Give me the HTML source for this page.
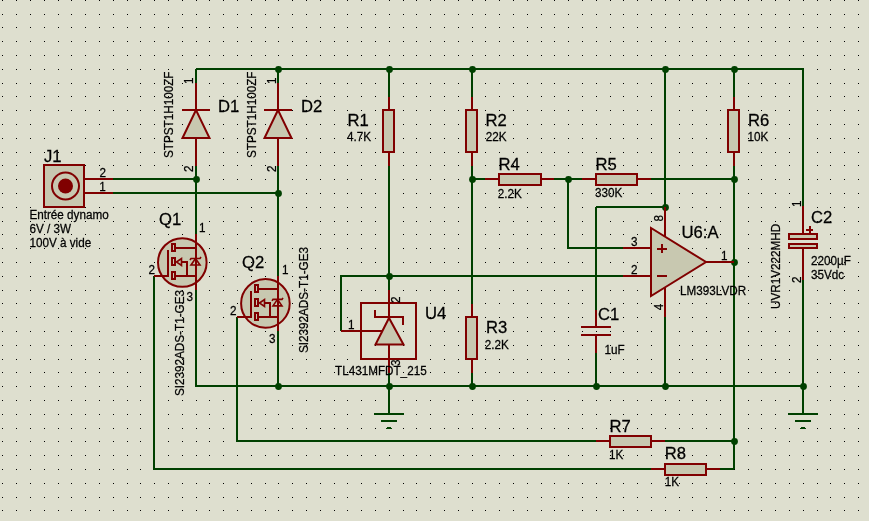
<!DOCTYPE html>
<html><head><meta charset="utf-8"><style>
html,body{margin:0;padding:0;background:#dedfcf;}
svg{display:block;}
text{font-family:"Liberation Sans",sans-serif;fill:#000000;stroke:#000000;stroke-width:0.25px;}
</style></head><body>
<svg width="869" height="521" viewBox="0 0 869 521">
<rect width="869" height="521" fill="#dedfcf"/>
<path d="M2 0h1v1h-1zM2 14h1v1h-1zM2 27h1v1h-1zM2 41h1v1h-1zM2 55h1v1h-1zM2 69h1v1h-1zM2 83h1v1h-1zM2 96h1v1h-1zM2 110h1v1h-1zM2 124h1v1h-1zM2 138h1v1h-1zM2 152h1v1h-1zM2 165h1v1h-1zM2 179h1v1h-1zM2 193h1v1h-1zM2 207h1v1h-1zM2 221h1v1h-1zM2 234h1v1h-1zM2 248h1v1h-1zM2 262h1v1h-1zM2 276h1v1h-1zM2 290h1v1h-1zM2 303h1v1h-1zM2 317h1v1h-1zM2 331h1v1h-1zM2 345h1v1h-1zM2 359h1v1h-1zM2 372h1v1h-1zM2 386h1v1h-1zM2 400h1v1h-1zM2 414h1v1h-1zM2 428h1v1h-1zM2 441h1v1h-1zM2 455h1v1h-1zM2 469h1v1h-1zM2 483h1v1h-1zM2 497h1v1h-1zM2 510h1v1h-1zM16 0h1v1h-1zM16 14h1v1h-1zM16 27h1v1h-1zM16 41h1v1h-1zM16 55h1v1h-1zM16 69h1v1h-1zM16 83h1v1h-1zM16 96h1v1h-1zM16 110h1v1h-1zM16 124h1v1h-1zM16 138h1v1h-1zM16 152h1v1h-1zM16 165h1v1h-1zM16 179h1v1h-1zM16 193h1v1h-1zM16 207h1v1h-1zM16 221h1v1h-1zM16 234h1v1h-1zM16 248h1v1h-1zM16 262h1v1h-1zM16 276h1v1h-1zM16 290h1v1h-1zM16 303h1v1h-1zM16 317h1v1h-1zM16 331h1v1h-1zM16 345h1v1h-1zM16 359h1v1h-1zM16 372h1v1h-1zM16 386h1v1h-1zM16 400h1v1h-1zM16 414h1v1h-1zM16 428h1v1h-1zM16 441h1v1h-1zM16 455h1v1h-1zM16 469h1v1h-1zM16 483h1v1h-1zM16 497h1v1h-1zM16 510h1v1h-1zM30 0h1v1h-1zM30 14h1v1h-1zM30 27h1v1h-1zM30 41h1v1h-1zM30 55h1v1h-1zM30 69h1v1h-1zM30 83h1v1h-1zM30 96h1v1h-1zM30 110h1v1h-1zM30 124h1v1h-1zM30 138h1v1h-1zM30 152h1v1h-1zM30 165h1v1h-1zM30 179h1v1h-1zM30 193h1v1h-1zM30 207h1v1h-1zM30 221h1v1h-1zM30 234h1v1h-1zM30 248h1v1h-1zM30 262h1v1h-1zM30 276h1v1h-1zM30 290h1v1h-1zM30 303h1v1h-1zM30 317h1v1h-1zM30 331h1v1h-1zM30 345h1v1h-1zM30 359h1v1h-1zM30 372h1v1h-1zM30 386h1v1h-1zM30 400h1v1h-1zM30 414h1v1h-1zM30 428h1v1h-1zM30 441h1v1h-1zM30 455h1v1h-1zM30 469h1v1h-1zM30 483h1v1h-1zM30 497h1v1h-1zM30 510h1v1h-1zM44 0h1v1h-1zM44 14h1v1h-1zM44 27h1v1h-1zM44 41h1v1h-1zM44 55h1v1h-1zM44 69h1v1h-1zM44 83h1v1h-1zM44 96h1v1h-1zM44 110h1v1h-1zM44 124h1v1h-1zM44 138h1v1h-1zM44 152h1v1h-1zM44 165h1v1h-1zM44 179h1v1h-1zM44 193h1v1h-1zM44 207h1v1h-1zM44 221h1v1h-1zM44 234h1v1h-1zM44 248h1v1h-1zM44 262h1v1h-1zM44 276h1v1h-1zM44 290h1v1h-1zM44 303h1v1h-1zM44 317h1v1h-1zM44 331h1v1h-1zM44 345h1v1h-1zM44 359h1v1h-1zM44 372h1v1h-1zM44 386h1v1h-1zM44 400h1v1h-1zM44 414h1v1h-1zM44 428h1v1h-1zM44 441h1v1h-1zM44 455h1v1h-1zM44 469h1v1h-1zM44 483h1v1h-1zM44 497h1v1h-1zM44 510h1v1h-1zM58 0h1v1h-1zM58 14h1v1h-1zM58 27h1v1h-1zM58 41h1v1h-1zM58 55h1v1h-1zM58 69h1v1h-1zM58 83h1v1h-1zM58 96h1v1h-1zM58 110h1v1h-1zM58 124h1v1h-1zM58 138h1v1h-1zM58 152h1v1h-1zM58 165h1v1h-1zM58 179h1v1h-1zM58 193h1v1h-1zM58 207h1v1h-1zM58 221h1v1h-1zM58 234h1v1h-1zM58 248h1v1h-1zM58 262h1v1h-1zM58 276h1v1h-1zM58 290h1v1h-1zM58 303h1v1h-1zM58 317h1v1h-1zM58 331h1v1h-1zM58 345h1v1h-1zM58 359h1v1h-1zM58 372h1v1h-1zM58 386h1v1h-1zM58 400h1v1h-1zM58 414h1v1h-1zM58 428h1v1h-1zM58 441h1v1h-1zM58 455h1v1h-1zM58 469h1v1h-1zM58 483h1v1h-1zM58 497h1v1h-1zM58 510h1v1h-1zM71 0h1v1h-1zM71 14h1v1h-1zM71 27h1v1h-1zM71 41h1v1h-1zM71 55h1v1h-1zM71 69h1v1h-1zM71 83h1v1h-1zM71 96h1v1h-1zM71 110h1v1h-1zM71 124h1v1h-1zM71 138h1v1h-1zM71 152h1v1h-1zM71 165h1v1h-1zM71 179h1v1h-1zM71 193h1v1h-1zM71 207h1v1h-1zM71 221h1v1h-1zM71 234h1v1h-1zM71 248h1v1h-1zM71 262h1v1h-1zM71 276h1v1h-1zM71 290h1v1h-1zM71 303h1v1h-1zM71 317h1v1h-1zM71 331h1v1h-1zM71 345h1v1h-1zM71 359h1v1h-1zM71 372h1v1h-1zM71 386h1v1h-1zM71 400h1v1h-1zM71 414h1v1h-1zM71 428h1v1h-1zM71 441h1v1h-1zM71 455h1v1h-1zM71 469h1v1h-1zM71 483h1v1h-1zM71 497h1v1h-1zM71 510h1v1h-1zM85 0h1v1h-1zM85 14h1v1h-1zM85 27h1v1h-1zM85 41h1v1h-1zM85 55h1v1h-1zM85 69h1v1h-1zM85 83h1v1h-1zM85 96h1v1h-1zM85 110h1v1h-1zM85 124h1v1h-1zM85 138h1v1h-1zM85 152h1v1h-1zM85 165h1v1h-1zM85 179h1v1h-1zM85 193h1v1h-1zM85 207h1v1h-1zM85 221h1v1h-1zM85 234h1v1h-1zM85 248h1v1h-1zM85 262h1v1h-1zM85 276h1v1h-1zM85 290h1v1h-1zM85 303h1v1h-1zM85 317h1v1h-1zM85 331h1v1h-1zM85 345h1v1h-1zM85 359h1v1h-1zM85 372h1v1h-1zM85 386h1v1h-1zM85 400h1v1h-1zM85 414h1v1h-1zM85 428h1v1h-1zM85 441h1v1h-1zM85 455h1v1h-1zM85 469h1v1h-1zM85 483h1v1h-1zM85 497h1v1h-1zM85 510h1v1h-1zM99 0h1v1h-1zM99 14h1v1h-1zM99 27h1v1h-1zM99 41h1v1h-1zM99 55h1v1h-1zM99 69h1v1h-1zM99 83h1v1h-1zM99 96h1v1h-1zM99 110h1v1h-1zM99 124h1v1h-1zM99 138h1v1h-1zM99 152h1v1h-1zM99 165h1v1h-1zM99 179h1v1h-1zM99 193h1v1h-1zM99 207h1v1h-1zM99 221h1v1h-1zM99 234h1v1h-1zM99 248h1v1h-1zM99 262h1v1h-1zM99 276h1v1h-1zM99 290h1v1h-1zM99 303h1v1h-1zM99 317h1v1h-1zM99 331h1v1h-1zM99 345h1v1h-1zM99 359h1v1h-1zM99 372h1v1h-1zM99 386h1v1h-1zM99 400h1v1h-1zM99 414h1v1h-1zM99 428h1v1h-1zM99 441h1v1h-1zM99 455h1v1h-1zM99 469h1v1h-1zM99 483h1v1h-1zM99 497h1v1h-1zM99 510h1v1h-1zM113 0h1v1h-1zM113 14h1v1h-1zM113 27h1v1h-1zM113 41h1v1h-1zM113 55h1v1h-1zM113 69h1v1h-1zM113 83h1v1h-1zM113 96h1v1h-1zM113 110h1v1h-1zM113 124h1v1h-1zM113 138h1v1h-1zM113 152h1v1h-1zM113 165h1v1h-1zM113 179h1v1h-1zM113 193h1v1h-1zM113 207h1v1h-1zM113 221h1v1h-1zM113 234h1v1h-1zM113 248h1v1h-1zM113 262h1v1h-1zM113 276h1v1h-1zM113 290h1v1h-1zM113 303h1v1h-1zM113 317h1v1h-1zM113 331h1v1h-1zM113 345h1v1h-1zM113 359h1v1h-1zM113 372h1v1h-1zM113 386h1v1h-1zM113 400h1v1h-1zM113 414h1v1h-1zM113 428h1v1h-1zM113 441h1v1h-1zM113 455h1v1h-1zM113 469h1v1h-1zM113 483h1v1h-1zM113 497h1v1h-1zM113 510h1v1h-1zM127 0h1v1h-1zM127 14h1v1h-1zM127 27h1v1h-1zM127 41h1v1h-1zM127 55h1v1h-1zM127 69h1v1h-1zM127 83h1v1h-1zM127 96h1v1h-1zM127 110h1v1h-1zM127 124h1v1h-1zM127 138h1v1h-1zM127 152h1v1h-1zM127 165h1v1h-1zM127 179h1v1h-1zM127 193h1v1h-1zM127 207h1v1h-1zM127 221h1v1h-1zM127 234h1v1h-1zM127 248h1v1h-1zM127 262h1v1h-1zM127 276h1v1h-1zM127 290h1v1h-1zM127 303h1v1h-1zM127 317h1v1h-1zM127 331h1v1h-1zM127 345h1v1h-1zM127 359h1v1h-1zM127 372h1v1h-1zM127 386h1v1h-1zM127 400h1v1h-1zM127 414h1v1h-1zM127 428h1v1h-1zM127 441h1v1h-1zM127 455h1v1h-1zM127 469h1v1h-1zM127 483h1v1h-1zM127 497h1v1h-1zM127 510h1v1h-1zM140 0h1v1h-1zM140 14h1v1h-1zM140 27h1v1h-1zM140 41h1v1h-1zM140 55h1v1h-1zM140 69h1v1h-1zM140 83h1v1h-1zM140 96h1v1h-1zM140 110h1v1h-1zM140 124h1v1h-1zM140 138h1v1h-1zM140 152h1v1h-1zM140 165h1v1h-1zM140 179h1v1h-1zM140 193h1v1h-1zM140 207h1v1h-1zM140 221h1v1h-1zM140 234h1v1h-1zM140 248h1v1h-1zM140 262h1v1h-1zM140 276h1v1h-1zM140 290h1v1h-1zM140 303h1v1h-1zM140 317h1v1h-1zM140 331h1v1h-1zM140 345h1v1h-1zM140 359h1v1h-1zM140 372h1v1h-1zM140 386h1v1h-1zM140 400h1v1h-1zM140 414h1v1h-1zM140 428h1v1h-1zM140 441h1v1h-1zM140 455h1v1h-1zM140 469h1v1h-1zM140 483h1v1h-1zM140 497h1v1h-1zM140 510h1v1h-1zM154 0h1v1h-1zM154 14h1v1h-1zM154 27h1v1h-1zM154 41h1v1h-1zM154 55h1v1h-1zM154 69h1v1h-1zM154 83h1v1h-1zM154 96h1v1h-1zM154 110h1v1h-1zM154 124h1v1h-1zM154 138h1v1h-1zM154 152h1v1h-1zM154 165h1v1h-1zM154 179h1v1h-1zM154 193h1v1h-1zM154 207h1v1h-1zM154 221h1v1h-1zM154 234h1v1h-1zM154 248h1v1h-1zM154 262h1v1h-1zM154 276h1v1h-1zM154 290h1v1h-1zM154 303h1v1h-1zM154 317h1v1h-1zM154 331h1v1h-1zM154 345h1v1h-1zM154 359h1v1h-1zM154 372h1v1h-1zM154 386h1v1h-1zM154 400h1v1h-1zM154 414h1v1h-1zM154 428h1v1h-1zM154 441h1v1h-1zM154 455h1v1h-1zM154 469h1v1h-1zM154 483h1v1h-1zM154 497h1v1h-1zM154 510h1v1h-1zM168 0h1v1h-1zM168 14h1v1h-1zM168 27h1v1h-1zM168 41h1v1h-1zM168 55h1v1h-1zM168 69h1v1h-1zM168 83h1v1h-1zM168 96h1v1h-1zM168 110h1v1h-1zM168 124h1v1h-1zM168 138h1v1h-1zM168 152h1v1h-1zM168 165h1v1h-1zM168 179h1v1h-1zM168 193h1v1h-1zM168 207h1v1h-1zM168 221h1v1h-1zM168 234h1v1h-1zM168 248h1v1h-1zM168 262h1v1h-1zM168 276h1v1h-1zM168 290h1v1h-1zM168 303h1v1h-1zM168 317h1v1h-1zM168 331h1v1h-1zM168 345h1v1h-1zM168 359h1v1h-1zM168 372h1v1h-1zM168 386h1v1h-1zM168 400h1v1h-1zM168 414h1v1h-1zM168 428h1v1h-1zM168 441h1v1h-1zM168 455h1v1h-1zM168 469h1v1h-1zM168 483h1v1h-1zM168 497h1v1h-1zM168 510h1v1h-1zM182 0h1v1h-1zM182 14h1v1h-1zM182 27h1v1h-1zM182 41h1v1h-1zM182 55h1v1h-1zM182 69h1v1h-1zM182 83h1v1h-1zM182 96h1v1h-1zM182 110h1v1h-1zM182 124h1v1h-1zM182 138h1v1h-1zM182 152h1v1h-1zM182 165h1v1h-1zM182 179h1v1h-1zM182 193h1v1h-1zM182 207h1v1h-1zM182 221h1v1h-1zM182 234h1v1h-1zM182 248h1v1h-1zM182 262h1v1h-1zM182 276h1v1h-1zM182 290h1v1h-1zM182 303h1v1h-1zM182 317h1v1h-1zM182 331h1v1h-1zM182 345h1v1h-1zM182 359h1v1h-1zM182 372h1v1h-1zM182 386h1v1h-1zM182 400h1v1h-1zM182 414h1v1h-1zM182 428h1v1h-1zM182 441h1v1h-1zM182 455h1v1h-1zM182 469h1v1h-1zM182 483h1v1h-1zM182 497h1v1h-1zM182 510h1v1h-1zM196 0h1v1h-1zM196 14h1v1h-1zM196 27h1v1h-1zM196 41h1v1h-1zM196 55h1v1h-1zM196 69h1v1h-1zM196 83h1v1h-1zM196 96h1v1h-1zM196 110h1v1h-1zM196 124h1v1h-1zM196 138h1v1h-1zM196 152h1v1h-1zM196 165h1v1h-1zM196 179h1v1h-1zM196 193h1v1h-1zM196 207h1v1h-1zM196 221h1v1h-1zM196 234h1v1h-1zM196 248h1v1h-1zM196 262h1v1h-1zM196 276h1v1h-1zM196 290h1v1h-1zM196 303h1v1h-1zM196 317h1v1h-1zM196 331h1v1h-1zM196 345h1v1h-1zM196 359h1v1h-1zM196 372h1v1h-1zM196 386h1v1h-1zM196 400h1v1h-1zM196 414h1v1h-1zM196 428h1v1h-1zM196 441h1v1h-1zM196 455h1v1h-1zM196 469h1v1h-1zM196 483h1v1h-1zM196 497h1v1h-1zM196 510h1v1h-1zM209 0h1v1h-1zM209 14h1v1h-1zM209 27h1v1h-1zM209 41h1v1h-1zM209 55h1v1h-1zM209 69h1v1h-1zM209 83h1v1h-1zM209 96h1v1h-1zM209 110h1v1h-1zM209 124h1v1h-1zM209 138h1v1h-1zM209 152h1v1h-1zM209 165h1v1h-1zM209 179h1v1h-1zM209 193h1v1h-1zM209 207h1v1h-1zM209 221h1v1h-1zM209 234h1v1h-1zM209 248h1v1h-1zM209 262h1v1h-1zM209 276h1v1h-1zM209 290h1v1h-1zM209 303h1v1h-1zM209 317h1v1h-1zM209 331h1v1h-1zM209 345h1v1h-1zM209 359h1v1h-1zM209 372h1v1h-1zM209 386h1v1h-1zM209 400h1v1h-1zM209 414h1v1h-1zM209 428h1v1h-1zM209 441h1v1h-1zM209 455h1v1h-1zM209 469h1v1h-1zM209 483h1v1h-1zM209 497h1v1h-1zM209 510h1v1h-1zM223 0h1v1h-1zM223 14h1v1h-1zM223 27h1v1h-1zM223 41h1v1h-1zM223 55h1v1h-1zM223 69h1v1h-1zM223 83h1v1h-1zM223 96h1v1h-1zM223 110h1v1h-1zM223 124h1v1h-1zM223 138h1v1h-1zM223 152h1v1h-1zM223 165h1v1h-1zM223 179h1v1h-1zM223 193h1v1h-1zM223 207h1v1h-1zM223 221h1v1h-1zM223 234h1v1h-1zM223 248h1v1h-1zM223 262h1v1h-1zM223 276h1v1h-1zM223 290h1v1h-1zM223 303h1v1h-1zM223 317h1v1h-1zM223 331h1v1h-1zM223 345h1v1h-1zM223 359h1v1h-1zM223 372h1v1h-1zM223 386h1v1h-1zM223 400h1v1h-1zM223 414h1v1h-1zM223 428h1v1h-1zM223 441h1v1h-1zM223 455h1v1h-1zM223 469h1v1h-1zM223 483h1v1h-1zM223 497h1v1h-1zM223 510h1v1h-1zM237 0h1v1h-1zM237 14h1v1h-1zM237 27h1v1h-1zM237 41h1v1h-1zM237 55h1v1h-1zM237 69h1v1h-1zM237 83h1v1h-1zM237 96h1v1h-1zM237 110h1v1h-1zM237 124h1v1h-1zM237 138h1v1h-1zM237 152h1v1h-1zM237 165h1v1h-1zM237 179h1v1h-1zM237 193h1v1h-1zM237 207h1v1h-1zM237 221h1v1h-1zM237 234h1v1h-1zM237 248h1v1h-1zM237 262h1v1h-1zM237 276h1v1h-1zM237 290h1v1h-1zM237 303h1v1h-1zM237 317h1v1h-1zM237 331h1v1h-1zM237 345h1v1h-1zM237 359h1v1h-1zM237 372h1v1h-1zM237 386h1v1h-1zM237 400h1v1h-1zM237 414h1v1h-1zM237 428h1v1h-1zM237 441h1v1h-1zM237 455h1v1h-1zM237 469h1v1h-1zM237 483h1v1h-1zM237 497h1v1h-1zM237 510h1v1h-1zM251 0h1v1h-1zM251 14h1v1h-1zM251 27h1v1h-1zM251 41h1v1h-1zM251 55h1v1h-1zM251 69h1v1h-1zM251 83h1v1h-1zM251 96h1v1h-1zM251 110h1v1h-1zM251 124h1v1h-1zM251 138h1v1h-1zM251 152h1v1h-1zM251 165h1v1h-1zM251 179h1v1h-1zM251 193h1v1h-1zM251 207h1v1h-1zM251 221h1v1h-1zM251 234h1v1h-1zM251 248h1v1h-1zM251 262h1v1h-1zM251 276h1v1h-1zM251 290h1v1h-1zM251 303h1v1h-1zM251 317h1v1h-1zM251 331h1v1h-1zM251 345h1v1h-1zM251 359h1v1h-1zM251 372h1v1h-1zM251 386h1v1h-1zM251 400h1v1h-1zM251 414h1v1h-1zM251 428h1v1h-1zM251 441h1v1h-1zM251 455h1v1h-1zM251 469h1v1h-1zM251 483h1v1h-1zM251 497h1v1h-1zM251 510h1v1h-1zM265 0h1v1h-1zM265 14h1v1h-1zM265 27h1v1h-1zM265 41h1v1h-1zM265 55h1v1h-1zM265 69h1v1h-1zM265 83h1v1h-1zM265 96h1v1h-1zM265 110h1v1h-1zM265 124h1v1h-1zM265 138h1v1h-1zM265 152h1v1h-1zM265 165h1v1h-1zM265 179h1v1h-1zM265 193h1v1h-1zM265 207h1v1h-1zM265 221h1v1h-1zM265 234h1v1h-1zM265 248h1v1h-1zM265 262h1v1h-1zM265 276h1v1h-1zM265 290h1v1h-1zM265 303h1v1h-1zM265 317h1v1h-1zM265 331h1v1h-1zM265 345h1v1h-1zM265 359h1v1h-1zM265 372h1v1h-1zM265 386h1v1h-1zM265 400h1v1h-1zM265 414h1v1h-1zM265 428h1v1h-1zM265 441h1v1h-1zM265 455h1v1h-1zM265 469h1v1h-1zM265 483h1v1h-1zM265 497h1v1h-1zM265 510h1v1h-1zM278 0h1v1h-1zM278 14h1v1h-1zM278 27h1v1h-1zM278 41h1v1h-1zM278 55h1v1h-1zM278 69h1v1h-1zM278 83h1v1h-1zM278 96h1v1h-1zM278 110h1v1h-1zM278 124h1v1h-1zM278 138h1v1h-1zM278 152h1v1h-1zM278 165h1v1h-1zM278 179h1v1h-1zM278 193h1v1h-1zM278 207h1v1h-1zM278 221h1v1h-1zM278 234h1v1h-1zM278 248h1v1h-1zM278 262h1v1h-1zM278 276h1v1h-1zM278 290h1v1h-1zM278 303h1v1h-1zM278 317h1v1h-1zM278 331h1v1h-1zM278 345h1v1h-1zM278 359h1v1h-1zM278 372h1v1h-1zM278 386h1v1h-1zM278 400h1v1h-1zM278 414h1v1h-1zM278 428h1v1h-1zM278 441h1v1h-1zM278 455h1v1h-1zM278 469h1v1h-1zM278 483h1v1h-1zM278 497h1v1h-1zM278 510h1v1h-1zM292 0h1v1h-1zM292 14h1v1h-1zM292 27h1v1h-1zM292 41h1v1h-1zM292 55h1v1h-1zM292 69h1v1h-1zM292 83h1v1h-1zM292 96h1v1h-1zM292 110h1v1h-1zM292 124h1v1h-1zM292 138h1v1h-1zM292 152h1v1h-1zM292 165h1v1h-1zM292 179h1v1h-1zM292 193h1v1h-1zM292 207h1v1h-1zM292 221h1v1h-1zM292 234h1v1h-1zM292 248h1v1h-1zM292 262h1v1h-1zM292 276h1v1h-1zM292 290h1v1h-1zM292 303h1v1h-1zM292 317h1v1h-1zM292 331h1v1h-1zM292 345h1v1h-1zM292 359h1v1h-1zM292 372h1v1h-1zM292 386h1v1h-1zM292 400h1v1h-1zM292 414h1v1h-1zM292 428h1v1h-1zM292 441h1v1h-1zM292 455h1v1h-1zM292 469h1v1h-1zM292 483h1v1h-1zM292 497h1v1h-1zM292 510h1v1h-1zM306 0h1v1h-1zM306 14h1v1h-1zM306 27h1v1h-1zM306 41h1v1h-1zM306 55h1v1h-1zM306 69h1v1h-1zM306 83h1v1h-1zM306 96h1v1h-1zM306 110h1v1h-1zM306 124h1v1h-1zM306 138h1v1h-1zM306 152h1v1h-1zM306 165h1v1h-1zM306 179h1v1h-1zM306 193h1v1h-1zM306 207h1v1h-1zM306 221h1v1h-1zM306 234h1v1h-1zM306 248h1v1h-1zM306 262h1v1h-1zM306 276h1v1h-1zM306 290h1v1h-1zM306 303h1v1h-1zM306 317h1v1h-1zM306 331h1v1h-1zM306 345h1v1h-1zM306 359h1v1h-1zM306 372h1v1h-1zM306 386h1v1h-1zM306 400h1v1h-1zM306 414h1v1h-1zM306 428h1v1h-1zM306 441h1v1h-1zM306 455h1v1h-1zM306 469h1v1h-1zM306 483h1v1h-1zM306 497h1v1h-1zM306 510h1v1h-1zM320 0h1v1h-1zM320 14h1v1h-1zM320 27h1v1h-1zM320 41h1v1h-1zM320 55h1v1h-1zM320 69h1v1h-1zM320 83h1v1h-1zM320 96h1v1h-1zM320 110h1v1h-1zM320 124h1v1h-1zM320 138h1v1h-1zM320 152h1v1h-1zM320 165h1v1h-1zM320 179h1v1h-1zM320 193h1v1h-1zM320 207h1v1h-1zM320 221h1v1h-1zM320 234h1v1h-1zM320 248h1v1h-1zM320 262h1v1h-1zM320 276h1v1h-1zM320 290h1v1h-1zM320 303h1v1h-1zM320 317h1v1h-1zM320 331h1v1h-1zM320 345h1v1h-1zM320 359h1v1h-1zM320 372h1v1h-1zM320 386h1v1h-1zM320 400h1v1h-1zM320 414h1v1h-1zM320 428h1v1h-1zM320 441h1v1h-1zM320 455h1v1h-1zM320 469h1v1h-1zM320 483h1v1h-1zM320 497h1v1h-1zM320 510h1v1h-1zM334 0h1v1h-1zM334 14h1v1h-1zM334 27h1v1h-1zM334 41h1v1h-1zM334 55h1v1h-1zM334 69h1v1h-1zM334 83h1v1h-1zM334 96h1v1h-1zM334 110h1v1h-1zM334 124h1v1h-1zM334 138h1v1h-1zM334 152h1v1h-1zM334 165h1v1h-1zM334 179h1v1h-1zM334 193h1v1h-1zM334 207h1v1h-1zM334 221h1v1h-1zM334 234h1v1h-1zM334 248h1v1h-1zM334 262h1v1h-1zM334 276h1v1h-1zM334 290h1v1h-1zM334 303h1v1h-1zM334 317h1v1h-1zM334 331h1v1h-1zM334 345h1v1h-1zM334 359h1v1h-1zM334 372h1v1h-1zM334 386h1v1h-1zM334 400h1v1h-1zM334 414h1v1h-1zM334 428h1v1h-1zM334 441h1v1h-1zM334 455h1v1h-1zM334 469h1v1h-1zM334 483h1v1h-1zM334 497h1v1h-1zM334 510h1v1h-1zM347 0h1v1h-1zM347 14h1v1h-1zM347 27h1v1h-1zM347 41h1v1h-1zM347 55h1v1h-1zM347 69h1v1h-1zM347 83h1v1h-1zM347 96h1v1h-1zM347 110h1v1h-1zM347 124h1v1h-1zM347 138h1v1h-1zM347 152h1v1h-1zM347 165h1v1h-1zM347 179h1v1h-1zM347 193h1v1h-1zM347 207h1v1h-1zM347 221h1v1h-1zM347 234h1v1h-1zM347 248h1v1h-1zM347 262h1v1h-1zM347 276h1v1h-1zM347 290h1v1h-1zM347 303h1v1h-1zM347 317h1v1h-1zM347 331h1v1h-1zM347 345h1v1h-1zM347 359h1v1h-1zM347 372h1v1h-1zM347 386h1v1h-1zM347 400h1v1h-1zM347 414h1v1h-1zM347 428h1v1h-1zM347 441h1v1h-1zM347 455h1v1h-1zM347 469h1v1h-1zM347 483h1v1h-1zM347 497h1v1h-1zM347 510h1v1h-1zM361 0h1v1h-1zM361 14h1v1h-1zM361 27h1v1h-1zM361 41h1v1h-1zM361 55h1v1h-1zM361 69h1v1h-1zM361 83h1v1h-1zM361 96h1v1h-1zM361 110h1v1h-1zM361 124h1v1h-1zM361 138h1v1h-1zM361 152h1v1h-1zM361 165h1v1h-1zM361 179h1v1h-1zM361 193h1v1h-1zM361 207h1v1h-1zM361 221h1v1h-1zM361 234h1v1h-1zM361 248h1v1h-1zM361 262h1v1h-1zM361 276h1v1h-1zM361 290h1v1h-1zM361 303h1v1h-1zM361 317h1v1h-1zM361 331h1v1h-1zM361 345h1v1h-1zM361 359h1v1h-1zM361 372h1v1h-1zM361 386h1v1h-1zM361 400h1v1h-1zM361 414h1v1h-1zM361 428h1v1h-1zM361 441h1v1h-1zM361 455h1v1h-1zM361 469h1v1h-1zM361 483h1v1h-1zM361 497h1v1h-1zM361 510h1v1h-1zM375 0h1v1h-1zM375 14h1v1h-1zM375 27h1v1h-1zM375 41h1v1h-1zM375 55h1v1h-1zM375 69h1v1h-1zM375 83h1v1h-1zM375 96h1v1h-1zM375 110h1v1h-1zM375 124h1v1h-1zM375 138h1v1h-1zM375 152h1v1h-1zM375 165h1v1h-1zM375 179h1v1h-1zM375 193h1v1h-1zM375 207h1v1h-1zM375 221h1v1h-1zM375 234h1v1h-1zM375 248h1v1h-1zM375 262h1v1h-1zM375 276h1v1h-1zM375 290h1v1h-1zM375 303h1v1h-1zM375 317h1v1h-1zM375 331h1v1h-1zM375 345h1v1h-1zM375 359h1v1h-1zM375 372h1v1h-1zM375 386h1v1h-1zM375 400h1v1h-1zM375 414h1v1h-1zM375 428h1v1h-1zM375 441h1v1h-1zM375 455h1v1h-1zM375 469h1v1h-1zM375 483h1v1h-1zM375 497h1v1h-1zM375 510h1v1h-1zM389 0h1v1h-1zM389 14h1v1h-1zM389 27h1v1h-1zM389 41h1v1h-1zM389 55h1v1h-1zM389 69h1v1h-1zM389 83h1v1h-1zM389 96h1v1h-1zM389 110h1v1h-1zM389 124h1v1h-1zM389 138h1v1h-1zM389 152h1v1h-1zM389 165h1v1h-1zM389 179h1v1h-1zM389 193h1v1h-1zM389 207h1v1h-1zM389 221h1v1h-1zM389 234h1v1h-1zM389 248h1v1h-1zM389 262h1v1h-1zM389 276h1v1h-1zM389 290h1v1h-1zM389 303h1v1h-1zM389 317h1v1h-1zM389 331h1v1h-1zM389 345h1v1h-1zM389 359h1v1h-1zM389 372h1v1h-1zM389 386h1v1h-1zM389 400h1v1h-1zM389 414h1v1h-1zM389 428h1v1h-1zM389 441h1v1h-1zM389 455h1v1h-1zM389 469h1v1h-1zM389 483h1v1h-1zM389 497h1v1h-1zM389 510h1v1h-1zM403 0h1v1h-1zM403 14h1v1h-1zM403 27h1v1h-1zM403 41h1v1h-1zM403 55h1v1h-1zM403 69h1v1h-1zM403 83h1v1h-1zM403 96h1v1h-1zM403 110h1v1h-1zM403 124h1v1h-1zM403 138h1v1h-1zM403 152h1v1h-1zM403 165h1v1h-1zM403 179h1v1h-1zM403 193h1v1h-1zM403 207h1v1h-1zM403 221h1v1h-1zM403 234h1v1h-1zM403 248h1v1h-1zM403 262h1v1h-1zM403 276h1v1h-1zM403 290h1v1h-1zM403 303h1v1h-1zM403 317h1v1h-1zM403 331h1v1h-1zM403 345h1v1h-1zM403 359h1v1h-1zM403 372h1v1h-1zM403 386h1v1h-1zM403 400h1v1h-1zM403 414h1v1h-1zM403 428h1v1h-1zM403 441h1v1h-1zM403 455h1v1h-1zM403 469h1v1h-1zM403 483h1v1h-1zM403 497h1v1h-1zM403 510h1v1h-1zM416 0h1v1h-1zM416 14h1v1h-1zM416 27h1v1h-1zM416 41h1v1h-1zM416 55h1v1h-1zM416 69h1v1h-1zM416 83h1v1h-1zM416 96h1v1h-1zM416 110h1v1h-1zM416 124h1v1h-1zM416 138h1v1h-1zM416 152h1v1h-1zM416 165h1v1h-1zM416 179h1v1h-1zM416 193h1v1h-1zM416 207h1v1h-1zM416 221h1v1h-1zM416 234h1v1h-1zM416 248h1v1h-1zM416 262h1v1h-1zM416 276h1v1h-1zM416 290h1v1h-1zM416 303h1v1h-1zM416 317h1v1h-1zM416 331h1v1h-1zM416 345h1v1h-1zM416 359h1v1h-1zM416 372h1v1h-1zM416 386h1v1h-1zM416 400h1v1h-1zM416 414h1v1h-1zM416 428h1v1h-1zM416 441h1v1h-1zM416 455h1v1h-1zM416 469h1v1h-1zM416 483h1v1h-1zM416 497h1v1h-1zM416 510h1v1h-1zM430 0h1v1h-1zM430 14h1v1h-1zM430 27h1v1h-1zM430 41h1v1h-1zM430 55h1v1h-1zM430 69h1v1h-1zM430 83h1v1h-1zM430 96h1v1h-1zM430 110h1v1h-1zM430 124h1v1h-1zM430 138h1v1h-1zM430 152h1v1h-1zM430 165h1v1h-1zM430 179h1v1h-1zM430 193h1v1h-1zM430 207h1v1h-1zM430 221h1v1h-1zM430 234h1v1h-1zM430 248h1v1h-1zM430 262h1v1h-1zM430 276h1v1h-1zM430 290h1v1h-1zM430 303h1v1h-1zM430 317h1v1h-1zM430 331h1v1h-1zM430 345h1v1h-1zM430 359h1v1h-1zM430 372h1v1h-1zM430 386h1v1h-1zM430 400h1v1h-1zM430 414h1v1h-1zM430 428h1v1h-1zM430 441h1v1h-1zM430 455h1v1h-1zM430 469h1v1h-1zM430 483h1v1h-1zM430 497h1v1h-1zM430 510h1v1h-1zM444 0h1v1h-1zM444 14h1v1h-1zM444 27h1v1h-1zM444 41h1v1h-1zM444 55h1v1h-1zM444 69h1v1h-1zM444 83h1v1h-1zM444 96h1v1h-1zM444 110h1v1h-1zM444 124h1v1h-1zM444 138h1v1h-1zM444 152h1v1h-1zM444 165h1v1h-1zM444 179h1v1h-1zM444 193h1v1h-1zM444 207h1v1h-1zM444 221h1v1h-1zM444 234h1v1h-1zM444 248h1v1h-1zM444 262h1v1h-1zM444 276h1v1h-1zM444 290h1v1h-1zM444 303h1v1h-1zM444 317h1v1h-1zM444 331h1v1h-1zM444 345h1v1h-1zM444 359h1v1h-1zM444 372h1v1h-1zM444 386h1v1h-1zM444 400h1v1h-1zM444 414h1v1h-1zM444 428h1v1h-1zM444 441h1v1h-1zM444 455h1v1h-1zM444 469h1v1h-1zM444 483h1v1h-1zM444 497h1v1h-1zM444 510h1v1h-1zM458 0h1v1h-1zM458 14h1v1h-1zM458 27h1v1h-1zM458 41h1v1h-1zM458 55h1v1h-1zM458 69h1v1h-1zM458 83h1v1h-1zM458 96h1v1h-1zM458 110h1v1h-1zM458 124h1v1h-1zM458 138h1v1h-1zM458 152h1v1h-1zM458 165h1v1h-1zM458 179h1v1h-1zM458 193h1v1h-1zM458 207h1v1h-1zM458 221h1v1h-1zM458 234h1v1h-1zM458 248h1v1h-1zM458 262h1v1h-1zM458 276h1v1h-1zM458 290h1v1h-1zM458 303h1v1h-1zM458 317h1v1h-1zM458 331h1v1h-1zM458 345h1v1h-1zM458 359h1v1h-1zM458 372h1v1h-1zM458 386h1v1h-1zM458 400h1v1h-1zM458 414h1v1h-1zM458 428h1v1h-1zM458 441h1v1h-1zM458 455h1v1h-1zM458 469h1v1h-1zM458 483h1v1h-1zM458 497h1v1h-1zM458 510h1v1h-1zM472 0h1v1h-1zM472 14h1v1h-1zM472 27h1v1h-1zM472 41h1v1h-1zM472 55h1v1h-1zM472 69h1v1h-1zM472 83h1v1h-1zM472 96h1v1h-1zM472 110h1v1h-1zM472 124h1v1h-1zM472 138h1v1h-1zM472 152h1v1h-1zM472 165h1v1h-1zM472 179h1v1h-1zM472 193h1v1h-1zM472 207h1v1h-1zM472 221h1v1h-1zM472 234h1v1h-1zM472 248h1v1h-1zM472 262h1v1h-1zM472 276h1v1h-1zM472 290h1v1h-1zM472 303h1v1h-1zM472 317h1v1h-1zM472 331h1v1h-1zM472 345h1v1h-1zM472 359h1v1h-1zM472 372h1v1h-1zM472 386h1v1h-1zM472 400h1v1h-1zM472 414h1v1h-1zM472 428h1v1h-1zM472 441h1v1h-1zM472 455h1v1h-1zM472 469h1v1h-1zM472 483h1v1h-1zM472 497h1v1h-1zM472 510h1v1h-1zM485 0h1v1h-1zM485 14h1v1h-1zM485 27h1v1h-1zM485 41h1v1h-1zM485 55h1v1h-1zM485 69h1v1h-1zM485 83h1v1h-1zM485 96h1v1h-1zM485 110h1v1h-1zM485 124h1v1h-1zM485 138h1v1h-1zM485 152h1v1h-1zM485 165h1v1h-1zM485 179h1v1h-1zM485 193h1v1h-1zM485 207h1v1h-1zM485 221h1v1h-1zM485 234h1v1h-1zM485 248h1v1h-1zM485 262h1v1h-1zM485 276h1v1h-1zM485 290h1v1h-1zM485 303h1v1h-1zM485 317h1v1h-1zM485 331h1v1h-1zM485 345h1v1h-1zM485 359h1v1h-1zM485 372h1v1h-1zM485 386h1v1h-1zM485 400h1v1h-1zM485 414h1v1h-1zM485 428h1v1h-1zM485 441h1v1h-1zM485 455h1v1h-1zM485 469h1v1h-1zM485 483h1v1h-1zM485 497h1v1h-1zM485 510h1v1h-1zM499 0h1v1h-1zM499 14h1v1h-1zM499 27h1v1h-1zM499 41h1v1h-1zM499 55h1v1h-1zM499 69h1v1h-1zM499 83h1v1h-1zM499 96h1v1h-1zM499 110h1v1h-1zM499 124h1v1h-1zM499 138h1v1h-1zM499 152h1v1h-1zM499 165h1v1h-1zM499 179h1v1h-1zM499 193h1v1h-1zM499 207h1v1h-1zM499 221h1v1h-1zM499 234h1v1h-1zM499 248h1v1h-1zM499 262h1v1h-1zM499 276h1v1h-1zM499 290h1v1h-1zM499 303h1v1h-1zM499 317h1v1h-1zM499 331h1v1h-1zM499 345h1v1h-1zM499 359h1v1h-1zM499 372h1v1h-1zM499 386h1v1h-1zM499 400h1v1h-1zM499 414h1v1h-1zM499 428h1v1h-1zM499 441h1v1h-1zM499 455h1v1h-1zM499 469h1v1h-1zM499 483h1v1h-1zM499 497h1v1h-1zM499 510h1v1h-1zM513 0h1v1h-1zM513 14h1v1h-1zM513 27h1v1h-1zM513 41h1v1h-1zM513 55h1v1h-1zM513 69h1v1h-1zM513 83h1v1h-1zM513 96h1v1h-1zM513 110h1v1h-1zM513 124h1v1h-1zM513 138h1v1h-1zM513 152h1v1h-1zM513 165h1v1h-1zM513 179h1v1h-1zM513 193h1v1h-1zM513 207h1v1h-1zM513 221h1v1h-1zM513 234h1v1h-1zM513 248h1v1h-1zM513 262h1v1h-1zM513 276h1v1h-1zM513 290h1v1h-1zM513 303h1v1h-1zM513 317h1v1h-1zM513 331h1v1h-1zM513 345h1v1h-1zM513 359h1v1h-1zM513 372h1v1h-1zM513 386h1v1h-1zM513 400h1v1h-1zM513 414h1v1h-1zM513 428h1v1h-1zM513 441h1v1h-1zM513 455h1v1h-1zM513 469h1v1h-1zM513 483h1v1h-1zM513 497h1v1h-1zM513 510h1v1h-1zM527 0h1v1h-1zM527 14h1v1h-1zM527 27h1v1h-1zM527 41h1v1h-1zM527 55h1v1h-1zM527 69h1v1h-1zM527 83h1v1h-1zM527 96h1v1h-1zM527 110h1v1h-1zM527 124h1v1h-1zM527 138h1v1h-1zM527 152h1v1h-1zM527 165h1v1h-1zM527 179h1v1h-1zM527 193h1v1h-1zM527 207h1v1h-1zM527 221h1v1h-1zM527 234h1v1h-1zM527 248h1v1h-1zM527 262h1v1h-1zM527 276h1v1h-1zM527 290h1v1h-1zM527 303h1v1h-1zM527 317h1v1h-1zM527 331h1v1h-1zM527 345h1v1h-1zM527 359h1v1h-1zM527 372h1v1h-1zM527 386h1v1h-1zM527 400h1v1h-1zM527 414h1v1h-1zM527 428h1v1h-1zM527 441h1v1h-1zM527 455h1v1h-1zM527 469h1v1h-1zM527 483h1v1h-1zM527 497h1v1h-1zM527 510h1v1h-1zM541 0h1v1h-1zM541 14h1v1h-1zM541 27h1v1h-1zM541 41h1v1h-1zM541 55h1v1h-1zM541 69h1v1h-1zM541 83h1v1h-1zM541 96h1v1h-1zM541 110h1v1h-1zM541 124h1v1h-1zM541 138h1v1h-1zM541 152h1v1h-1zM541 165h1v1h-1zM541 179h1v1h-1zM541 193h1v1h-1zM541 207h1v1h-1zM541 221h1v1h-1zM541 234h1v1h-1zM541 248h1v1h-1zM541 262h1v1h-1zM541 276h1v1h-1zM541 290h1v1h-1zM541 303h1v1h-1zM541 317h1v1h-1zM541 331h1v1h-1zM541 345h1v1h-1zM541 359h1v1h-1zM541 372h1v1h-1zM541 386h1v1h-1zM541 400h1v1h-1zM541 414h1v1h-1zM541 428h1v1h-1zM541 441h1v1h-1zM541 455h1v1h-1zM541 469h1v1h-1zM541 483h1v1h-1zM541 497h1v1h-1zM541 510h1v1h-1zM554 0h1v1h-1zM554 14h1v1h-1zM554 27h1v1h-1zM554 41h1v1h-1zM554 55h1v1h-1zM554 69h1v1h-1zM554 83h1v1h-1zM554 96h1v1h-1zM554 110h1v1h-1zM554 124h1v1h-1zM554 138h1v1h-1zM554 152h1v1h-1zM554 165h1v1h-1zM554 179h1v1h-1zM554 193h1v1h-1zM554 207h1v1h-1zM554 221h1v1h-1zM554 234h1v1h-1zM554 248h1v1h-1zM554 262h1v1h-1zM554 276h1v1h-1zM554 290h1v1h-1zM554 303h1v1h-1zM554 317h1v1h-1zM554 331h1v1h-1zM554 345h1v1h-1zM554 359h1v1h-1zM554 372h1v1h-1zM554 386h1v1h-1zM554 400h1v1h-1zM554 414h1v1h-1zM554 428h1v1h-1zM554 441h1v1h-1zM554 455h1v1h-1zM554 469h1v1h-1zM554 483h1v1h-1zM554 497h1v1h-1zM554 510h1v1h-1zM568 0h1v1h-1zM568 14h1v1h-1zM568 27h1v1h-1zM568 41h1v1h-1zM568 55h1v1h-1zM568 69h1v1h-1zM568 83h1v1h-1zM568 96h1v1h-1zM568 110h1v1h-1zM568 124h1v1h-1zM568 138h1v1h-1zM568 152h1v1h-1zM568 165h1v1h-1zM568 179h1v1h-1zM568 193h1v1h-1zM568 207h1v1h-1zM568 221h1v1h-1zM568 234h1v1h-1zM568 248h1v1h-1zM568 262h1v1h-1zM568 276h1v1h-1zM568 290h1v1h-1zM568 303h1v1h-1zM568 317h1v1h-1zM568 331h1v1h-1zM568 345h1v1h-1zM568 359h1v1h-1zM568 372h1v1h-1zM568 386h1v1h-1zM568 400h1v1h-1zM568 414h1v1h-1zM568 428h1v1h-1zM568 441h1v1h-1zM568 455h1v1h-1zM568 469h1v1h-1zM568 483h1v1h-1zM568 497h1v1h-1zM568 510h1v1h-1zM582 0h1v1h-1zM582 14h1v1h-1zM582 27h1v1h-1zM582 41h1v1h-1zM582 55h1v1h-1zM582 69h1v1h-1zM582 83h1v1h-1zM582 96h1v1h-1zM582 110h1v1h-1zM582 124h1v1h-1zM582 138h1v1h-1zM582 152h1v1h-1zM582 165h1v1h-1zM582 179h1v1h-1zM582 193h1v1h-1zM582 207h1v1h-1zM582 221h1v1h-1zM582 234h1v1h-1zM582 248h1v1h-1zM582 262h1v1h-1zM582 276h1v1h-1zM582 290h1v1h-1zM582 303h1v1h-1zM582 317h1v1h-1zM582 331h1v1h-1zM582 345h1v1h-1zM582 359h1v1h-1zM582 372h1v1h-1zM582 386h1v1h-1zM582 400h1v1h-1zM582 414h1v1h-1zM582 428h1v1h-1zM582 441h1v1h-1zM582 455h1v1h-1zM582 469h1v1h-1zM582 483h1v1h-1zM582 497h1v1h-1zM582 510h1v1h-1zM596 0h1v1h-1zM596 14h1v1h-1zM596 27h1v1h-1zM596 41h1v1h-1zM596 55h1v1h-1zM596 69h1v1h-1zM596 83h1v1h-1zM596 96h1v1h-1zM596 110h1v1h-1zM596 124h1v1h-1zM596 138h1v1h-1zM596 152h1v1h-1zM596 165h1v1h-1zM596 179h1v1h-1zM596 193h1v1h-1zM596 207h1v1h-1zM596 221h1v1h-1zM596 234h1v1h-1zM596 248h1v1h-1zM596 262h1v1h-1zM596 276h1v1h-1zM596 290h1v1h-1zM596 303h1v1h-1zM596 317h1v1h-1zM596 331h1v1h-1zM596 345h1v1h-1zM596 359h1v1h-1zM596 372h1v1h-1zM596 386h1v1h-1zM596 400h1v1h-1zM596 414h1v1h-1zM596 428h1v1h-1zM596 441h1v1h-1zM596 455h1v1h-1zM596 469h1v1h-1zM596 483h1v1h-1zM596 497h1v1h-1zM596 510h1v1h-1zM610 0h1v1h-1zM610 14h1v1h-1zM610 27h1v1h-1zM610 41h1v1h-1zM610 55h1v1h-1zM610 69h1v1h-1zM610 83h1v1h-1zM610 96h1v1h-1zM610 110h1v1h-1zM610 124h1v1h-1zM610 138h1v1h-1zM610 152h1v1h-1zM610 165h1v1h-1zM610 179h1v1h-1zM610 193h1v1h-1zM610 207h1v1h-1zM610 221h1v1h-1zM610 234h1v1h-1zM610 248h1v1h-1zM610 262h1v1h-1zM610 276h1v1h-1zM610 290h1v1h-1zM610 303h1v1h-1zM610 317h1v1h-1zM610 331h1v1h-1zM610 345h1v1h-1zM610 359h1v1h-1zM610 372h1v1h-1zM610 386h1v1h-1zM610 400h1v1h-1zM610 414h1v1h-1zM610 428h1v1h-1zM610 441h1v1h-1zM610 455h1v1h-1zM610 469h1v1h-1zM610 483h1v1h-1zM610 497h1v1h-1zM610 510h1v1h-1zM623 0h1v1h-1zM623 14h1v1h-1zM623 27h1v1h-1zM623 41h1v1h-1zM623 55h1v1h-1zM623 69h1v1h-1zM623 83h1v1h-1zM623 96h1v1h-1zM623 110h1v1h-1zM623 124h1v1h-1zM623 138h1v1h-1zM623 152h1v1h-1zM623 165h1v1h-1zM623 179h1v1h-1zM623 193h1v1h-1zM623 207h1v1h-1zM623 221h1v1h-1zM623 234h1v1h-1zM623 248h1v1h-1zM623 262h1v1h-1zM623 276h1v1h-1zM623 290h1v1h-1zM623 303h1v1h-1zM623 317h1v1h-1zM623 331h1v1h-1zM623 345h1v1h-1zM623 359h1v1h-1zM623 372h1v1h-1zM623 386h1v1h-1zM623 400h1v1h-1zM623 414h1v1h-1zM623 428h1v1h-1zM623 441h1v1h-1zM623 455h1v1h-1zM623 469h1v1h-1zM623 483h1v1h-1zM623 497h1v1h-1zM623 510h1v1h-1zM637 0h1v1h-1zM637 14h1v1h-1zM637 27h1v1h-1zM637 41h1v1h-1zM637 55h1v1h-1zM637 69h1v1h-1zM637 83h1v1h-1zM637 96h1v1h-1zM637 110h1v1h-1zM637 124h1v1h-1zM637 138h1v1h-1zM637 152h1v1h-1zM637 165h1v1h-1zM637 179h1v1h-1zM637 193h1v1h-1zM637 207h1v1h-1zM637 221h1v1h-1zM637 234h1v1h-1zM637 248h1v1h-1zM637 262h1v1h-1zM637 276h1v1h-1zM637 290h1v1h-1zM637 303h1v1h-1zM637 317h1v1h-1zM637 331h1v1h-1zM637 345h1v1h-1zM637 359h1v1h-1zM637 372h1v1h-1zM637 386h1v1h-1zM637 400h1v1h-1zM637 414h1v1h-1zM637 428h1v1h-1zM637 441h1v1h-1zM637 455h1v1h-1zM637 469h1v1h-1zM637 483h1v1h-1zM637 497h1v1h-1zM637 510h1v1h-1zM651 0h1v1h-1zM651 14h1v1h-1zM651 27h1v1h-1zM651 41h1v1h-1zM651 55h1v1h-1zM651 69h1v1h-1zM651 83h1v1h-1zM651 96h1v1h-1zM651 110h1v1h-1zM651 124h1v1h-1zM651 138h1v1h-1zM651 152h1v1h-1zM651 165h1v1h-1zM651 179h1v1h-1zM651 193h1v1h-1zM651 207h1v1h-1zM651 221h1v1h-1zM651 234h1v1h-1zM651 248h1v1h-1zM651 262h1v1h-1zM651 276h1v1h-1zM651 290h1v1h-1zM651 303h1v1h-1zM651 317h1v1h-1zM651 331h1v1h-1zM651 345h1v1h-1zM651 359h1v1h-1zM651 372h1v1h-1zM651 386h1v1h-1zM651 400h1v1h-1zM651 414h1v1h-1zM651 428h1v1h-1zM651 441h1v1h-1zM651 455h1v1h-1zM651 469h1v1h-1zM651 483h1v1h-1zM651 497h1v1h-1zM651 510h1v1h-1zM665 0h1v1h-1zM665 14h1v1h-1zM665 27h1v1h-1zM665 41h1v1h-1zM665 55h1v1h-1zM665 69h1v1h-1zM665 83h1v1h-1zM665 96h1v1h-1zM665 110h1v1h-1zM665 124h1v1h-1zM665 138h1v1h-1zM665 152h1v1h-1zM665 165h1v1h-1zM665 179h1v1h-1zM665 193h1v1h-1zM665 207h1v1h-1zM665 221h1v1h-1zM665 234h1v1h-1zM665 248h1v1h-1zM665 262h1v1h-1zM665 276h1v1h-1zM665 290h1v1h-1zM665 303h1v1h-1zM665 317h1v1h-1zM665 331h1v1h-1zM665 345h1v1h-1zM665 359h1v1h-1zM665 372h1v1h-1zM665 386h1v1h-1zM665 400h1v1h-1zM665 414h1v1h-1zM665 428h1v1h-1zM665 441h1v1h-1zM665 455h1v1h-1zM665 469h1v1h-1zM665 483h1v1h-1zM665 497h1v1h-1zM665 510h1v1h-1zM679 0h1v1h-1zM679 14h1v1h-1zM679 27h1v1h-1zM679 41h1v1h-1zM679 55h1v1h-1zM679 69h1v1h-1zM679 83h1v1h-1zM679 96h1v1h-1zM679 110h1v1h-1zM679 124h1v1h-1zM679 138h1v1h-1zM679 152h1v1h-1zM679 165h1v1h-1zM679 179h1v1h-1zM679 193h1v1h-1zM679 207h1v1h-1zM679 221h1v1h-1zM679 234h1v1h-1zM679 248h1v1h-1zM679 262h1v1h-1zM679 276h1v1h-1zM679 290h1v1h-1zM679 303h1v1h-1zM679 317h1v1h-1zM679 331h1v1h-1zM679 345h1v1h-1zM679 359h1v1h-1zM679 372h1v1h-1zM679 386h1v1h-1zM679 400h1v1h-1zM679 414h1v1h-1zM679 428h1v1h-1zM679 441h1v1h-1zM679 455h1v1h-1zM679 469h1v1h-1zM679 483h1v1h-1zM679 497h1v1h-1zM679 510h1v1h-1zM692 0h1v1h-1zM692 14h1v1h-1zM692 27h1v1h-1zM692 41h1v1h-1zM692 55h1v1h-1zM692 69h1v1h-1zM692 83h1v1h-1zM692 96h1v1h-1zM692 110h1v1h-1zM692 124h1v1h-1zM692 138h1v1h-1zM692 152h1v1h-1zM692 165h1v1h-1zM692 179h1v1h-1zM692 193h1v1h-1zM692 207h1v1h-1zM692 221h1v1h-1zM692 234h1v1h-1zM692 248h1v1h-1zM692 262h1v1h-1zM692 276h1v1h-1zM692 290h1v1h-1zM692 303h1v1h-1zM692 317h1v1h-1zM692 331h1v1h-1zM692 345h1v1h-1zM692 359h1v1h-1zM692 372h1v1h-1zM692 386h1v1h-1zM692 400h1v1h-1zM692 414h1v1h-1zM692 428h1v1h-1zM692 441h1v1h-1zM692 455h1v1h-1zM692 469h1v1h-1zM692 483h1v1h-1zM692 497h1v1h-1zM692 510h1v1h-1zM706 0h1v1h-1zM706 14h1v1h-1zM706 27h1v1h-1zM706 41h1v1h-1zM706 55h1v1h-1zM706 69h1v1h-1zM706 83h1v1h-1zM706 96h1v1h-1zM706 110h1v1h-1zM706 124h1v1h-1zM706 138h1v1h-1zM706 152h1v1h-1zM706 165h1v1h-1zM706 179h1v1h-1zM706 193h1v1h-1zM706 207h1v1h-1zM706 221h1v1h-1zM706 234h1v1h-1zM706 248h1v1h-1zM706 262h1v1h-1zM706 276h1v1h-1zM706 290h1v1h-1zM706 303h1v1h-1zM706 317h1v1h-1zM706 331h1v1h-1zM706 345h1v1h-1zM706 359h1v1h-1zM706 372h1v1h-1zM706 386h1v1h-1zM706 400h1v1h-1zM706 414h1v1h-1zM706 428h1v1h-1zM706 441h1v1h-1zM706 455h1v1h-1zM706 469h1v1h-1zM706 483h1v1h-1zM706 497h1v1h-1zM706 510h1v1h-1zM720 0h1v1h-1zM720 14h1v1h-1zM720 27h1v1h-1zM720 41h1v1h-1zM720 55h1v1h-1zM720 69h1v1h-1zM720 83h1v1h-1zM720 96h1v1h-1zM720 110h1v1h-1zM720 124h1v1h-1zM720 138h1v1h-1zM720 152h1v1h-1zM720 165h1v1h-1zM720 179h1v1h-1zM720 193h1v1h-1zM720 207h1v1h-1zM720 221h1v1h-1zM720 234h1v1h-1zM720 248h1v1h-1zM720 262h1v1h-1zM720 276h1v1h-1zM720 290h1v1h-1zM720 303h1v1h-1zM720 317h1v1h-1zM720 331h1v1h-1zM720 345h1v1h-1zM720 359h1v1h-1zM720 372h1v1h-1zM720 386h1v1h-1zM720 400h1v1h-1zM720 414h1v1h-1zM720 428h1v1h-1zM720 441h1v1h-1zM720 455h1v1h-1zM720 469h1v1h-1zM720 483h1v1h-1zM720 497h1v1h-1zM720 510h1v1h-1zM734 0h1v1h-1zM734 14h1v1h-1zM734 27h1v1h-1zM734 41h1v1h-1zM734 55h1v1h-1zM734 69h1v1h-1zM734 83h1v1h-1zM734 96h1v1h-1zM734 110h1v1h-1zM734 124h1v1h-1zM734 138h1v1h-1zM734 152h1v1h-1zM734 165h1v1h-1zM734 179h1v1h-1zM734 193h1v1h-1zM734 207h1v1h-1zM734 221h1v1h-1zM734 234h1v1h-1zM734 248h1v1h-1zM734 262h1v1h-1zM734 276h1v1h-1zM734 290h1v1h-1zM734 303h1v1h-1zM734 317h1v1h-1zM734 331h1v1h-1zM734 345h1v1h-1zM734 359h1v1h-1zM734 372h1v1h-1zM734 386h1v1h-1zM734 400h1v1h-1zM734 414h1v1h-1zM734 428h1v1h-1zM734 441h1v1h-1zM734 455h1v1h-1zM734 469h1v1h-1zM734 483h1v1h-1zM734 497h1v1h-1zM734 510h1v1h-1zM748 0h1v1h-1zM748 14h1v1h-1zM748 27h1v1h-1zM748 41h1v1h-1zM748 55h1v1h-1zM748 69h1v1h-1zM748 83h1v1h-1zM748 96h1v1h-1zM748 110h1v1h-1zM748 124h1v1h-1zM748 138h1v1h-1zM748 152h1v1h-1zM748 165h1v1h-1zM748 179h1v1h-1zM748 193h1v1h-1zM748 207h1v1h-1zM748 221h1v1h-1zM748 234h1v1h-1zM748 248h1v1h-1zM748 262h1v1h-1zM748 276h1v1h-1zM748 290h1v1h-1zM748 303h1v1h-1zM748 317h1v1h-1zM748 331h1v1h-1zM748 345h1v1h-1zM748 359h1v1h-1zM748 372h1v1h-1zM748 386h1v1h-1zM748 400h1v1h-1zM748 414h1v1h-1zM748 428h1v1h-1zM748 441h1v1h-1zM748 455h1v1h-1zM748 469h1v1h-1zM748 483h1v1h-1zM748 497h1v1h-1zM748 510h1v1h-1zM761 0h1v1h-1zM761 14h1v1h-1zM761 27h1v1h-1zM761 41h1v1h-1zM761 55h1v1h-1zM761 69h1v1h-1zM761 83h1v1h-1zM761 96h1v1h-1zM761 110h1v1h-1zM761 124h1v1h-1zM761 138h1v1h-1zM761 152h1v1h-1zM761 165h1v1h-1zM761 179h1v1h-1zM761 193h1v1h-1zM761 207h1v1h-1zM761 221h1v1h-1zM761 234h1v1h-1zM761 248h1v1h-1zM761 262h1v1h-1zM761 276h1v1h-1zM761 290h1v1h-1zM761 303h1v1h-1zM761 317h1v1h-1zM761 331h1v1h-1zM761 345h1v1h-1zM761 359h1v1h-1zM761 372h1v1h-1zM761 386h1v1h-1zM761 400h1v1h-1zM761 414h1v1h-1zM761 428h1v1h-1zM761 441h1v1h-1zM761 455h1v1h-1zM761 469h1v1h-1zM761 483h1v1h-1zM761 497h1v1h-1zM761 510h1v1h-1zM775 0h1v1h-1zM775 14h1v1h-1zM775 27h1v1h-1zM775 41h1v1h-1zM775 55h1v1h-1zM775 69h1v1h-1zM775 83h1v1h-1zM775 96h1v1h-1zM775 110h1v1h-1zM775 124h1v1h-1zM775 138h1v1h-1zM775 152h1v1h-1zM775 165h1v1h-1zM775 179h1v1h-1zM775 193h1v1h-1zM775 207h1v1h-1zM775 221h1v1h-1zM775 234h1v1h-1zM775 248h1v1h-1zM775 262h1v1h-1zM775 276h1v1h-1zM775 290h1v1h-1zM775 303h1v1h-1zM775 317h1v1h-1zM775 331h1v1h-1zM775 345h1v1h-1zM775 359h1v1h-1zM775 372h1v1h-1zM775 386h1v1h-1zM775 400h1v1h-1zM775 414h1v1h-1zM775 428h1v1h-1zM775 441h1v1h-1zM775 455h1v1h-1zM775 469h1v1h-1zM775 483h1v1h-1zM775 497h1v1h-1zM775 510h1v1h-1zM789 0h1v1h-1zM789 14h1v1h-1zM789 27h1v1h-1zM789 41h1v1h-1zM789 55h1v1h-1zM789 69h1v1h-1zM789 83h1v1h-1zM789 96h1v1h-1zM789 110h1v1h-1zM789 124h1v1h-1zM789 138h1v1h-1zM789 152h1v1h-1zM789 165h1v1h-1zM789 179h1v1h-1zM789 193h1v1h-1zM789 207h1v1h-1zM789 221h1v1h-1zM789 234h1v1h-1zM789 248h1v1h-1zM789 262h1v1h-1zM789 276h1v1h-1zM789 290h1v1h-1zM789 303h1v1h-1zM789 317h1v1h-1zM789 331h1v1h-1zM789 345h1v1h-1zM789 359h1v1h-1zM789 372h1v1h-1zM789 386h1v1h-1zM789 400h1v1h-1zM789 414h1v1h-1zM789 428h1v1h-1zM789 441h1v1h-1zM789 455h1v1h-1zM789 469h1v1h-1zM789 483h1v1h-1zM789 497h1v1h-1zM789 510h1v1h-1zM803 0h1v1h-1zM803 14h1v1h-1zM803 27h1v1h-1zM803 41h1v1h-1zM803 55h1v1h-1zM803 69h1v1h-1zM803 83h1v1h-1zM803 96h1v1h-1zM803 110h1v1h-1zM803 124h1v1h-1zM803 138h1v1h-1zM803 152h1v1h-1zM803 165h1v1h-1zM803 179h1v1h-1zM803 193h1v1h-1zM803 207h1v1h-1zM803 221h1v1h-1zM803 234h1v1h-1zM803 248h1v1h-1zM803 262h1v1h-1zM803 276h1v1h-1zM803 290h1v1h-1zM803 303h1v1h-1zM803 317h1v1h-1zM803 331h1v1h-1zM803 345h1v1h-1zM803 359h1v1h-1zM803 372h1v1h-1zM803 386h1v1h-1zM803 400h1v1h-1zM803 414h1v1h-1zM803 428h1v1h-1zM803 441h1v1h-1zM803 455h1v1h-1zM803 469h1v1h-1zM803 483h1v1h-1zM803 497h1v1h-1zM803 510h1v1h-1zM817 0h1v1h-1zM817 14h1v1h-1zM817 27h1v1h-1zM817 41h1v1h-1zM817 55h1v1h-1zM817 69h1v1h-1zM817 83h1v1h-1zM817 96h1v1h-1zM817 110h1v1h-1zM817 124h1v1h-1zM817 138h1v1h-1zM817 152h1v1h-1zM817 165h1v1h-1zM817 179h1v1h-1zM817 193h1v1h-1zM817 207h1v1h-1zM817 221h1v1h-1zM817 234h1v1h-1zM817 248h1v1h-1zM817 262h1v1h-1zM817 276h1v1h-1zM817 290h1v1h-1zM817 303h1v1h-1zM817 317h1v1h-1zM817 331h1v1h-1zM817 345h1v1h-1zM817 359h1v1h-1zM817 372h1v1h-1zM817 386h1v1h-1zM817 400h1v1h-1zM817 414h1v1h-1zM817 428h1v1h-1zM817 441h1v1h-1zM817 455h1v1h-1zM817 469h1v1h-1zM817 483h1v1h-1zM817 497h1v1h-1zM817 510h1v1h-1zM830 0h1v1h-1zM830 14h1v1h-1zM830 27h1v1h-1zM830 41h1v1h-1zM830 55h1v1h-1zM830 69h1v1h-1zM830 83h1v1h-1zM830 96h1v1h-1zM830 110h1v1h-1zM830 124h1v1h-1zM830 138h1v1h-1zM830 152h1v1h-1zM830 165h1v1h-1zM830 179h1v1h-1zM830 193h1v1h-1zM830 207h1v1h-1zM830 221h1v1h-1zM830 234h1v1h-1zM830 248h1v1h-1zM830 262h1v1h-1zM830 276h1v1h-1zM830 290h1v1h-1zM830 303h1v1h-1zM830 317h1v1h-1zM830 331h1v1h-1zM830 345h1v1h-1zM830 359h1v1h-1zM830 372h1v1h-1zM830 386h1v1h-1zM830 400h1v1h-1zM830 414h1v1h-1zM830 428h1v1h-1zM830 441h1v1h-1zM830 455h1v1h-1zM830 469h1v1h-1zM830 483h1v1h-1zM830 497h1v1h-1zM830 510h1v1h-1zM844 0h1v1h-1zM844 14h1v1h-1zM844 27h1v1h-1zM844 41h1v1h-1zM844 55h1v1h-1zM844 69h1v1h-1zM844 83h1v1h-1zM844 96h1v1h-1zM844 110h1v1h-1zM844 124h1v1h-1zM844 138h1v1h-1zM844 152h1v1h-1zM844 165h1v1h-1zM844 179h1v1h-1zM844 193h1v1h-1zM844 207h1v1h-1zM844 221h1v1h-1zM844 234h1v1h-1zM844 248h1v1h-1zM844 262h1v1h-1zM844 276h1v1h-1zM844 290h1v1h-1zM844 303h1v1h-1zM844 317h1v1h-1zM844 331h1v1h-1zM844 345h1v1h-1zM844 359h1v1h-1zM844 372h1v1h-1zM844 386h1v1h-1zM844 400h1v1h-1zM844 414h1v1h-1zM844 428h1v1h-1zM844 441h1v1h-1zM844 455h1v1h-1zM844 469h1v1h-1zM844 483h1v1h-1zM844 497h1v1h-1zM844 510h1v1h-1zM858 0h1v1h-1zM858 14h1v1h-1zM858 27h1v1h-1zM858 41h1v1h-1zM858 55h1v1h-1zM858 69h1v1h-1zM858 83h1v1h-1zM858 96h1v1h-1zM858 110h1v1h-1zM858 124h1v1h-1zM858 138h1v1h-1zM858 152h1v1h-1zM858 165h1v1h-1zM858 179h1v1h-1zM858 193h1v1h-1zM858 207h1v1h-1zM858 221h1v1h-1zM858 234h1v1h-1zM858 248h1v1h-1zM858 262h1v1h-1zM858 276h1v1h-1zM858 290h1v1h-1zM858 303h1v1h-1zM858 317h1v1h-1zM858 331h1v1h-1zM858 345h1v1h-1zM858 359h1v1h-1zM858 372h1v1h-1zM858 386h1v1h-1zM858 400h1v1h-1zM858 414h1v1h-1zM858 428h1v1h-1zM858 441h1v1h-1zM858 455h1v1h-1zM858 469h1v1h-1zM858 483h1v1h-1zM858 497h1v1h-1zM858 510h1v1h-1z" fill="#000"/>
<path d="M196 69 L803 69 L803 206 M196 69 L196 83 M278 69 L278 83 M113 179 L196 179 M113 193 L278 193 M196 166 L196 234 M278 166 L278 276 M196 290 L196 386 L803 386 M278 331 L278 386 M154 276 L154 469 L651 469 M720 469 L734 469 M237 317 L237 441 L596 441 M665 441 L734 441 M389 69 L389 97 M389 166 L389 290 M472 69 L472 97 M472 166 L472 304 M472 373 L472 386 M472 179 L485 179 M554 179 L582 179 M651 179 L734 179 M734 69 L734 97 M734 166 L734 469 M568 179 L568 248 L623 248 M341 331 L341 276 L623 276 M665 69 L665 207 M596 207 L665 207 M596 207 L596 310 M596 353 L596 386 M665 317 L665 386 M803 280 L803 414 M389 373 L389 414" fill="none" stroke="#004000" stroke-width="2" shape-rendering="crispEdges"/>
<path d="M374 414h30M381 421h16" stroke="#004000" stroke-width="2" fill="none" shape-rendering="crispEdges"/>
<path d="M386 428h6v1h-6zM387 427h4v1h-4z" fill="#004000"/>
<path d="M788 414h30M795 421h16" stroke="#004000" stroke-width="2" fill="none" shape-rendering="crispEdges"/>
<path d="M800 428h6v1h-6zM801 427h4v1h-4z" fill="#004000"/>
<circle cx="278.5" cy="69.5" r="3.4" fill="#004000"/>
<circle cx="389.5" cy="69.5" r="3.4" fill="#004000"/>
<circle cx="472.5" cy="69.5" r="3.4" fill="#004000"/>
<circle cx="665.5" cy="69.5" r="3.4" fill="#004000"/>
<circle cx="734.5" cy="69.5" r="3.4" fill="#004000"/>
<circle cx="196.5" cy="179.5" r="3.4" fill="#004000"/>
<circle cx="278.5" cy="193.5" r="3.4" fill="#004000"/>
<circle cx="472.5" cy="179.5" r="3.4" fill="#004000"/>
<circle cx="568.5" cy="179.5" r="3.4" fill="#004000"/>
<circle cx="734.5" cy="179.5" r="3.4" fill="#004000"/>
<circle cx="665.5" cy="207.5" r="3.4" fill="#004000"/>
<circle cx="734.5" cy="262.5" r="3.4" fill="#004000"/>
<circle cx="389.5" cy="276.5" r="3.4" fill="#004000"/>
<circle cx="278.5" cy="386.5" r="3.4" fill="#004000"/>
<circle cx="389.5" cy="386.5" r="3.4" fill="#004000"/>
<circle cx="472.5" cy="386.5" r="3.4" fill="#004000"/>
<circle cx="596.5" cy="386.5" r="3.4" fill="#004000"/>
<circle cx="665.5" cy="386.5" r="3.4" fill="#004000"/>
<circle cx="803.5" cy="386.5" r="3.4" fill="#004000"/>
<circle cx="734.5" cy="441.5" r="3.4" fill="#004000"/>
<rect x="44" y="165" width="40" height="42" fill="#c8c8b0" stroke="#800000" stroke-width="2" shape-rendering="crispEdges"/>
<circle cx="65.5" cy="186" r="13.5" fill="none" stroke="#800000" stroke-width="2"/>
<circle cx="65.5" cy="186" r="7.5" fill="#800000"/>
<path d="M196 110 L182.5 138 L209.5 138 Z" fill="#c8c8b0" stroke="#800000" stroke-width="2"/>
<path d="M278 110 L264.5 138 L291.5 138 Z" fill="#c8c8b0" stroke="#800000" stroke-width="2"/>
<rect x="383" y="110" width="11" height="42" fill="#c8c8b0" stroke="#800000" stroke-width="2" shape-rendering="crispEdges"/>
<rect x="466" y="110" width="11" height="42" fill="#c8c8b0" stroke="#800000" stroke-width="2" shape-rendering="crispEdges"/>
<rect x="728" y="110" width="11" height="42" fill="#c8c8b0" stroke="#800000" stroke-width="2" shape-rendering="crispEdges"/>
<rect x="466" y="317" width="11" height="42" fill="#c8c8b0" stroke="#800000" stroke-width="2" shape-rendering="crispEdges"/>
<rect x="499" y="174" width="42" height="11" fill="#c8c8b0" stroke="#800000" stroke-width="2" shape-rendering="crispEdges"/>
<rect x="596" y="174" width="41" height="11" fill="#c8c8b0" stroke="#800000" stroke-width="2" shape-rendering="crispEdges"/>
<rect x="610" y="436" width="41" height="11" fill="#c8c8b0" stroke="#800000" stroke-width="2" shape-rendering="crispEdges"/>
<rect x="665" y="464" width="41" height="11" fill="#c8c8b0" stroke="#800000" stroke-width="2" shape-rendering="crispEdges"/>
<rect x="789" y="234" width="28" height="5" fill="#c8c8b0" stroke="#800000" stroke-width="2" shape-rendering="crispEdges"/>
<rect x="789" y="244" width="28" height="4" fill="#c8c8b0" stroke="#800000" stroke-width="2" shape-rendering="crispEdges"/>
<path d="M651 228 L651 296 L706 262 Z" fill="#c8c8b0" stroke="#800000" stroke-width="2"/>
<rect x="361" y="303" width="55" height="56" fill="none" stroke="#800000" stroke-width="2" shape-rendering="crispEdges"/>
<path d="M389 318 L375.5 344.5 L403.5 344.5 Z" fill="#c8c8b0" stroke="#800000" stroke-width="2"/>
<circle cx="182.3" cy="262.5" r="24.3" fill="#c8c8b0" stroke="#800000" stroke-width="2"/>
<rect x="172" y="244" width="3" height="7" fill="none" stroke="#800000" stroke-width="2" shape-rendering="crispEdges"/>
<rect x="172" y="258" width="3" height="7" fill="none" stroke="#800000" stroke-width="2" shape-rendering="crispEdges"/>
<rect x="172" y="272" width="3" height="7" fill="none" stroke="#800000" stroke-width="2" shape-rendering="crispEdges"/>
<path d="M176.5 262 L181.5 258.5 L181.5 265.5 Z" fill="#c8c8b0" stroke="#800000" stroke-width="1.6"/>
<path d="M195.5 258.5 L191 265.0 L200 265.0 Z" fill="none" stroke="#800000" stroke-width="1.6"/>
<path d="M190 260.0 L191 258.5 H200 L201 257.0" fill="none" stroke="#800000" stroke-width="1.6"/>
<circle cx="265.4" cy="303.4" r="24.3" fill="#c8c8b0" stroke="#800000" stroke-width="2"/>
<rect x="255" y="285" width="3" height="7" fill="none" stroke="#800000" stroke-width="2" shape-rendering="crispEdges"/>
<rect x="255" y="299" width="3" height="7" fill="none" stroke="#800000" stroke-width="2" shape-rendering="crispEdges"/>
<rect x="255" y="313" width="3" height="7" fill="none" stroke="#800000" stroke-width="2" shape-rendering="crispEdges"/>
<path d="M259.5 303 L264.5 299.5 L264.5 306.5 Z" fill="#c8c8b0" stroke="#800000" stroke-width="1.6"/>
<path d="M277.5 299.4 L273 305.9 L282 305.9 Z" fill="none" stroke="#800000" stroke-width="1.6"/>
<path d="M272 300.9 L273 299.4 H282 L283 297.9" fill="none" stroke="#800000" stroke-width="1.6"/>
<path d="M85 179 L113 179 M85 193 L113 193 M196 83 L196 110 M182 110 L210 110 M196 138 L196 166 M278 83 L278 110 M264 110 L292 110 M278 138 L278 166 M389 97 L389 110 M389 152 L389 166 M472 97 L472 110 M472 152 L472 166 M734 97 L734 110 M734 152 L734 166 M472 304 L472 317 M472 359 L472 373 M485 179 L499 179 M541 179 L554 179 M582 179 L596 179 M637 179 L651 179 M596 441 L610 441 M651 441 L665 441 M651 469 L665 469 M706 469 L720 469 M596 310 L596 327 M581 327 L611 327 M581 335 L611 335 M596 335 L596 353 M803 206 L803 233 M803 249 L803 280 M806 230 L813 230 M810 226 L810 233 M623 248 L651 248 M623 276 L651 276 M706 262 L734 262 M665 207 L665 236 M665 288 L665 317 M657 249 L667 249 M662 244 L662 253 M657 276 L667 276 M389 290 L389 318 M389 344 L389 373 M341 331 L382 331 M375 310 L375 317 L403 317 L403 325 M196 234 L196 290 M154 276 L168 276 L168 250 M176 248 L196 248 M176 276 L196 276 M181 262 L187 262 L187 276 M278 276 L278 331 M237 317 L251 317 L251 291 M259 289 L278 289 M259 317 L278 317 M264 303 L270 303 L270 317" fill="none" stroke="#800000" stroke-width="2" shape-rendering="crispEdges"/>
<g style="will-change:transform">
<text transform="translate(44 161.5) scale(1.04 1)" font-size="16">J1</text>
<text transform="translate(99.6 176.5) scale(0.975 1)" font-size="12">2</text>
<text transform="translate(99.3 191) scale(0.975 1)" font-size="12">1</text>
<text transform="translate(29.4 219.2) scale(0.975 1)" font-size="12">Entrée dynamo</text>
<text transform="translate(29.4 233.0) scale(0.975 1)" font-size="12">6V / 3W</text>
<text transform="translate(29.4 247.0) scale(0.975 1)" font-size="12">100V à vide</text>
<text transform="translate(218 112) scale(1.04 1)" font-size="16">D1</text>
<text transform="translate(301 112) scale(1.04 1)" font-size="16">D2</text>
<text transform="translate(173 158) rotate(-90) scale(0.975 1)" font-size="12">STPST1H100ZF</text>
<text transform="translate(256 158) rotate(-90) scale(0.975 1)" font-size="12">STPST1H100ZF</text>
<text transform="translate(192.5 84) rotate(-90) scale(0.975 1)" font-size="12">1</text>
<text transform="translate(193 172) rotate(-90) scale(0.975 1)" font-size="12">2</text>
<text transform="translate(275.5 84) rotate(-90) scale(0.975 1)" font-size="12">1</text>
<text transform="translate(276 172) rotate(-90) scale(0.975 1)" font-size="12">2</text>
<text transform="translate(347.5 126) scale(1.04 1)" font-size="16">R1</text>
<text transform="translate(347 141) scale(0.975 1)" font-size="12">4.7K</text>
<text transform="translate(485.5 126) scale(1.04 1)" font-size="16">R2</text>
<text transform="translate(485.7 141) scale(0.975 1)" font-size="12">22K</text>
<text transform="translate(498.5 170) scale(1.04 1)" font-size="16">R4</text>
<text transform="translate(497.7 197.5) scale(0.975 1)" font-size="12">2.2K</text>
<text transform="translate(595.5 170) scale(1.04 1)" font-size="16">R5</text>
<text transform="translate(595 197) scale(0.975 1)" font-size="12">330K</text>
<text transform="translate(748 126) scale(1.04 1)" font-size="16">R6</text>
<text transform="translate(747.5 141) scale(0.975 1)" font-size="12">10K</text>
<text transform="translate(486 333) scale(1.04 1)" font-size="16">R3</text>
<text transform="translate(484.7 348.5) scale(0.975 1)" font-size="12">2.2K</text>
<text transform="translate(609.5 432) scale(1.04 1)" font-size="16">R7</text>
<text transform="translate(609 459) scale(0.975 1)" font-size="12">1K</text>
<text transform="translate(664.7 459) scale(1.04 1)" font-size="16">R8</text>
<text transform="translate(664.7 486) scale(0.975 1)" font-size="12">1K</text>
<text transform="translate(598 319.5) scale(1.04 1)" font-size="16">C1</text>
<text transform="translate(604.5 354) scale(0.975 1)" font-size="12">1uF</text>
<text transform="translate(811 222.5) scale(1.04 1)" font-size="16">C2</text>
<text transform="translate(811 265) scale(0.975 1)" font-size="12">2200µF</text>
<text transform="translate(811 278.5) scale(0.975 1)" font-size="12">35Vdc</text>
<text transform="translate(780 309) rotate(-90) scale(0.975 1)" font-size="12">UVR1V222MHD</text>
<text transform="translate(801 207) rotate(-90) scale(0.975 1)" font-size="12">1</text>
<text transform="translate(801 283) rotate(-90) scale(0.975 1)" font-size="12">2</text>
<text transform="translate(681.5 238) scale(1.04 1)" font-size="16">U6:A</text>
<text transform="translate(680 295) scale(0.975 1)" font-size="12">LM393LVDR</text>
<text transform="translate(631 246) scale(0.975 1)" font-size="12">3</text>
<text transform="translate(631 274) scale(0.975 1)" font-size="12">2</text>
<text transform="translate(721 260) scale(0.975 1)" font-size="12">1</text>
<text transform="translate(663 221.5) rotate(-90) scale(0.975 1)" font-size="12">8</text>
<text transform="translate(663 310.2) rotate(-90) scale(0.975 1)" font-size="12">4</text>
<text transform="translate(425 319) scale(1.04 1)" font-size="16">U4</text>
<text transform="translate(335 375) scale(0.975 1)" font-size="12">TL431MFDT_215</text>
<text transform="translate(348 328.5) scale(0.975 1)" font-size="12">1</text>
<text transform="translate(400 303) rotate(-90) scale(0.975 1)" font-size="12">2</text>
<text transform="translate(400 366) rotate(-90) scale(0.975 1)" font-size="12">3</text>
<text transform="translate(159 225) scale(1.04 1)" font-size="16">Q1</text>
<text transform="translate(199 232) scale(0.975 1)" font-size="12">1</text>
<text transform="translate(148.5 273.7) scale(0.975 1)" font-size="12">2</text>
<text transform="translate(186.5 301) scale(0.975 1)" font-size="12">3</text>
<text transform="translate(184 396) rotate(-90) scale(0.975 1)" font-size="12">SI2392ADS-T1-GE3</text>
<text transform="translate(242 267.5) scale(1.04 1)" font-size="16">Q2</text>
<text transform="translate(282 274) scale(0.975 1)" font-size="12">1</text>
<text transform="translate(230 315) scale(0.975 1)" font-size="12">2</text>
<text transform="translate(269 342.5) scale(0.975 1)" font-size="12">3</text>
<text transform="translate(308 353) rotate(-90) scale(0.975 1)" font-size="12">SI2392ADS-T1-GE3</text>
</g>
</svg>
</body></html>
